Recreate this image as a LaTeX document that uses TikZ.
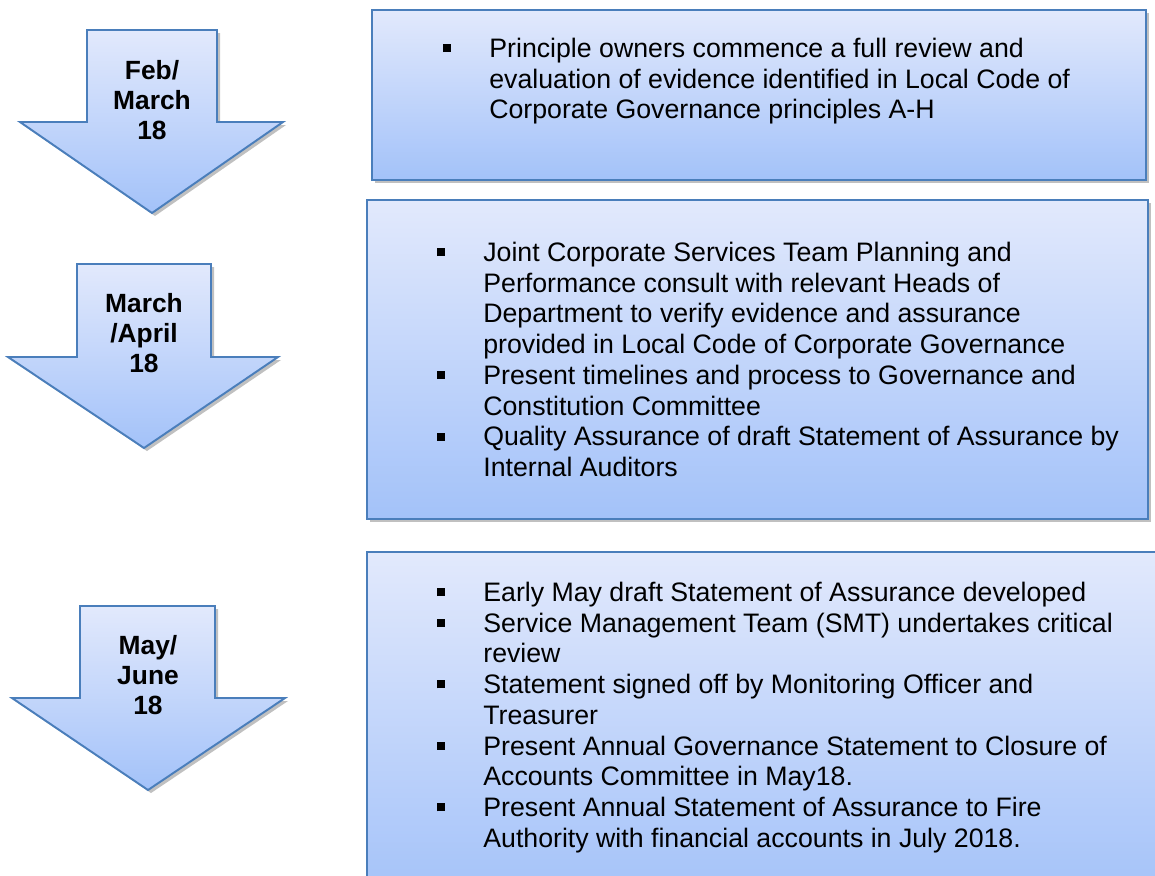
\documentclass[tikz,border=0pt]{standalone}
\usepackage{fontspec}
\setmainfont{Liberation Sans}
\definecolor{bTop}{HTML}{E2E9FC}
\definecolor{bBot}{HTML}{A3C2F9}
\definecolor{bLine}{HTML}{4A7EBB}
\newcommand{\bul}{\makebox[0.92cm][l]{\raisebox{3pt}{\rule{4.6pt}{4.6pt}}}}
\newcommand{\ind}{\hspace*{0.92cm}}

\begin{document}
\begin{tikzpicture}[x=0.2mm,y=-0.2mm,
		panel/.style={draw=bLine, line width=1.1pt, top color=bTop, bottom color=bBot},
		shade/.style={fill=black!45, opacity=0.55},
		when/.style={font=\fontsize{15}{17}\selectfont\bfseries, align=center, inner sep=0pt},
		todo/.style={font=\fontsize{15.2}{17.5}\selectfont, align=left, anchor=north west, inner sep=0pt}]
		\clip (0,0) rectangle (1155,875);
		% shadows
		\fill [shade, shift={(3,3)}] (87,30) -- (217,30) -- (217,122) -- (283,122) -- (152,213) -- (20,122) -- (87,122) -- cycle;
		\fill [shade, shift={(3,3)}] (77,264) -- (211,264) -- (211,357) -- (278,357) -- (144,448) -- (8,357) -- (77,357) -- cycle;
		\fill [shade, shift={(3,3)}] (80,606) -- (215,606) -- (215,698) -- (285,698) -- (148,790) -- (12,698) -- (80,698) -- cycle;
		\fill [shade, shift={(3,3)}] (372,10) rectangle (1146,180);
		\fill [shade, shift={(3,3)}] (367,200) rectangle (1148,519);
		\fill [shade, shift={(3,3)}] (367,552) rectangle (1165,900);
		% arrows
		\draw [panel] (87,30) -- (217,30) -- (217,122) -- (283,122) -- (152,213) -- (20,122) -- (87,122) -- cycle;
		\draw [panel] (77,264) -- (211,264) -- (211,357) -- (278,357) -- (144,448) -- (8,357) -- (77,357) -- cycle;
		\draw [panel] (80,606) -- (215,606) -- (215,698) -- (285,698) -- (148,790) -- (12,698) -- (80,698) -- cycle;
		% boxes
		\draw [panel] (372,10) rectangle (1146,180);
		\draw [panel] (367,200) rectangle (1148,519);
		\draw [panel] (367,552) rectangle (1165,900);
		% dates
		\node [when] (feb) at (152,100) {Feb/\\March\\18};
		\node [when] (mar) at (144,333) {March\\/April\\18};
		\node [when] (may) at (148,675) {May/\\June\\18};
		% tasks
		\node [todo] (list1) at (443,35.5) {\strut\bul Principle owners commence a full review and\\
			\ind evaluation of evidence identified in Local Code of\\
			\ind Corporate Governance principles A-H};
		\node [todo] (list2) at (437,239.5) {\strut\bul Joint Corporate Services Team Planning and\\
			\ind Performance consult with relevant Heads of\\
			\ind Department to verify evidence and assurance\\
			\ind provided in Local Code of Corporate Governance\\
			\bul Present timelines and process to Governance and\\
			\ind Constitution Committee\\
			\bul Quality Assurance of draft Statement of Assurance by\\
			\ind Internal Auditors};
		\node [todo] (list3) at (437,579.5) {\strut\bul Early May draft Statement of Assurance developed\\
			\bul Service Management Team (SMT) undertakes critical\\
			\ind review\\
			\bul Statement signed off by Monitoring Officer and\\
			\ind Treasurer\\
			\bul Present Annual Governance Statement to Closure of\\
			\ind Accounts Committee in May18.\\
			\bul Present Annual Statement of Assurance to Fire\\
			\ind Authority with financial accounts in July 2018.};
\end{tikzpicture}
\end{document}
